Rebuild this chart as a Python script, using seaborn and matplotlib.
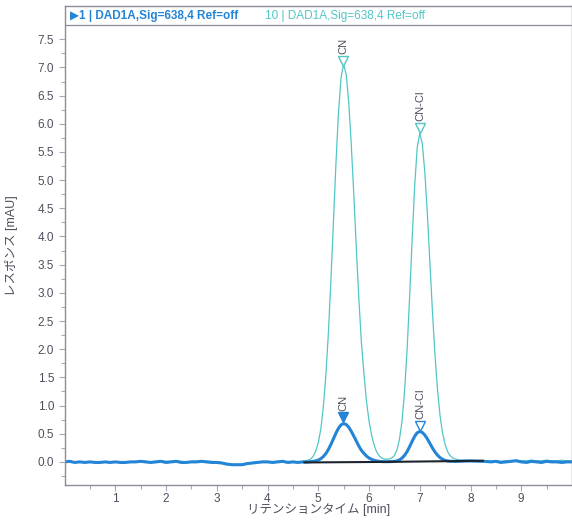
import numpy as np
import pandas as pd
import matplotlib
matplotlib.use("Agg")
import matplotlib.pyplot as plt
from matplotlib.ticker import FormatStrFormatter
import seaborn as sns

# time grid: baseline part, peak part, tail part
t_a = np.round(np.arange(0.0, 4.71, 0.1), 2)
t_b = np.round(np.arange(4.75, 8.301, 0.05), 2)
t_c = np.round(np.arange(8.4, 10.01, 0.1), 2)

# trace 10 (teal)
teal_a = [0.00, 0.01, 0.00, -0.01, 0.00, 0.00, -0.01, 0.00, 0.00, -0.01,
          -0.01, 0.00, -0.01, 0.00, 0.01, 0.01, 0.01, 0.00, 0.01, 0.02,
          0.01, 0.01, 0.02, 0.01, 0.00, 0.01, 0.01, 0.02, 0.01, 0.01,
          0.00, -0.01, -0.03, -0.04, -0.05, -0.04, -0.03, -0.01, 0.00, 0.00,
          0.01, 0.00, 0.01, 0.01, 0.00, 0.01, 0.00, 0.01]
teal_b = [0.02, 0.03, 0.05, 0.10, 0.19, 0.34, 0.58, 0.97, 1.54, 2.29,
          3.23, 4.28, 5.32, 6.22, 6.83, 7.05, 6.88, 6.39, 5.64, 4.75,
          3.80, 2.90, 2.12, 1.57, 1.08, 0.73, 0.48, 0.30, 0.18, 0.11,
          0.07, 0.05, 0.05, 0.05, 0.07, 0.11, 0.21, 0.40, 0.72, 1.24,
          1.98, 2.92, 3.95, 4.90, 5.58, 5.83, 5.65, 5.14, 4.40, 3.54,
          2.67, 1.90, 1.28, 0.82, 0.51, 0.31, 0.18, 0.11, 0.07, 0.05,
          0.04, 0.03, 0.03, 0.03, 0.03, 0.03, 0.03, 0.02, 0.02, 0.02,
          0.02, 0.02]
teal_c = [0.02, 0.02, 0.01, 0.02, 0.02, 0.03, 0.02, 0.02, 0.03, 0.02,
          0.02, 0.03, 0.02, 0.02, 0.03, 0.02, 0.02]

# trace 1 (blue)
blue_a = [0.00, 0.01, -0.01, 0.00, -0.01, 0.00, -0.01, -0.01, 0.00, -0.01,
          0.00, -0.01, -0.01, 0.00, 0.00, 0.01, 0.00, -0.01, 0.00, 0.01,
          -0.01, 0.00, 0.01, -0.01, -0.01, 0.00, 0.00, 0.01, 0.00, -0.01,
          -0.01, -0.02, -0.04, -0.05, -0.05, -0.05, -0.03, -0.02, -0.01, 0.00,
          0.00, -0.01, 0.00, 0.01, -0.01, 0.00, -0.01, 0.00]
blue_b = [0.000, 0.000, 0.005, 0.010, 0.018, 0.032, 0.056, 0.094, 0.148, 0.221,
          0.311, 0.412, 0.513, 0.600, 0.659, 0.680, 0.664, 0.616, 0.544, 0.458,
          0.367, 0.280, 0.205, 0.152, 0.104, 0.070, 0.046, 0.028, 0.017, 0.010,
          0.006, 0.004, 0.004, 0.004, 0.006, 0.009, 0.018, 0.036, 0.067, 0.115,
          0.183, 0.270, 0.366, 0.454, 0.517, 0.540, 0.523, 0.477, 0.408, 0.328,
          0.247, 0.176, 0.119, 0.076, 0.046, 0.027, 0.016, 0.011, 0.009, 0.008,
          0.010, 0.012, 0.014, 0.015, 0.016, 0.016, 0.015, 0.014, 0.012, 0.010,
          0.010, 0.008]
blue_c = [0.00, 0.01, -0.01, 0.00, 0.01, 0.02, 0.00, -0.01, 0.01, 0.00,
          -0.01, 0.01, 0.00, 0.00, -0.01, 0.00, 0.00]

# integration baselines
base_t = [4.72, 6.36, 8.25]
base_y = [-0.01, 0.0, 0.02]

# peak labels
peak_names = ["CN", "CN-Cl"]
peak_t = [5.49, 7.01]
teal_mark = [7.12, 5.93]
blue_mark = [0.79, 0.64]

teal = "#52c6c6"
blue = "#2484d6"
grey = "#8c8c9c"
txt = "#4e4e5e"

df = pd.DataFrame({
    "t": np.concatenate([t_a, t_b, t_c]),
    "teal": teal_a + teal_b + teal_c,
    "blue": blue_a + blue_b + blue_c,
})

sns.set_style("white")
plt.rcParams["font.family"] = ["Liberation Sans", "Noto Sans CJK JP", "DejaVu Sans"]

fig = plt.figure(figsize=(5.72, 5.2), dpi=100)
ax = fig.add_axes([64.5 / 572, 1 - 485 / 520, 1 - 64.5 / 572, (485 - 6) / 520])

sns.lineplot(data=df, x="t", y="teal", ax=ax, color=teal, lw=0.9)
sns.lineplot(data=df, x="t", y="blue", ax=ax, color=blue, lw=2.2)
ax.plot(base_t, base_y, color="#1c2430", lw=1.5)

# markers + labels
ax.plot(peak_t, teal_mark, ls="none", marker="v", ms=6.5, mfc="white", mec=teal, mew=1)
ax.plot(peak_t[0], blue_mark[0], ls="none", marker="v", ms=6.5, color=blue)
ax.plot(peak_t[1], blue_mark[1], ls="none", marker="v", ms=6.5, mfc="white", mec=blue, mew=1)
for name, x, y in zip(peak_names, peak_t, teal_mark):
    ax.text(x, y + 0.12, name, rotation=90, ha="center", va="bottom", fontsize=8,
            color=txt)
for name, x, y in zip(peak_names, peak_t, blue_mark):
    ax.text(x, y + 0.12, name, rotation=90, ha="center", va="bottom", fontsize=8,
            color=txt)

ax.set_xlim(0, 10.0)
ax.set_ylim(-0.41, 8.09)
ax.set_xticks([1, 2, 3, 4, 5, 6, 7, 8, 9])
ax.set_xticks(np.arange(0.5, 10, 0.5), minor=True)
ax.set_yticks(np.arange(0, 7.51, 0.5))
ax.set_yticks(np.arange(-0.25, 7.6, 0.25), minor=True)
ax.yaxis.set_major_formatter(FormatStrFormatter("%.1f"))
ax.tick_params(which="both", direction="out", color="#a8a8b8", labelcolor=txt,
               labelsize=8.5, width=0.8, bottom=True, left=True)
ax.tick_params(which="major", length=4)
ax.tick_params(which="minor", length=3)
ax.tick_params(axis="x", pad=1.5)

for side in ["left", "bottom", "top", "right"]:
    ax.spines[side].set_color(grey)
    ax.spines[side].set_linewidth(1.0)

# header strip
ax.axhline(7.75, color=grey, lw=0.9)
ax.text(0.1, 7.92, "▶1 | DAD1A,Sig=638,4 Ref=off", color=blue, fontsize=8.5,
        fontweight="bold", va="center", ha="left",
        family=["Liberation Sans", "DejaVu Sans"])
ax.text(3.95, 7.92, "10 | DAD1A,Sig=638,4 Ref=off", color=teal, fontsize=8.5,
        va="center", ha="left")

ax.set_xlabel("リテンションタイム [min]", fontsize=9, color=txt, labelpad=-1)
ax.set_ylabel("レスポンス [mAU]", fontsize=9, color=txt, labelpad=14)

fig.savefig("out.png", dpi=100)
